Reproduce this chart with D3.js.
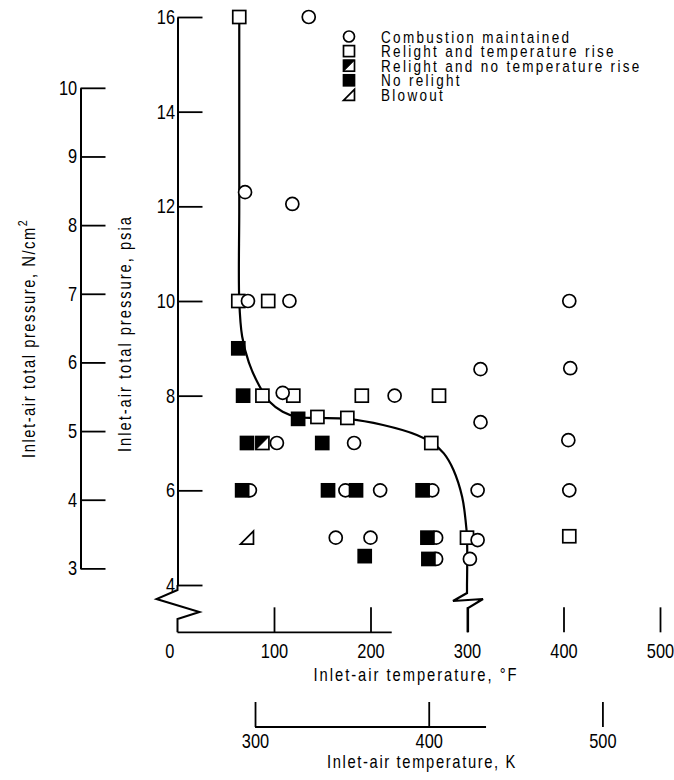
<!DOCTYPE html>
<html>
<head>
<meta charset="utf-8">
<script src="https://cdn.jsdelivr.net/npm/d3@7"></script>
<style>
  html, body { margin: 0; padding: 0; background: #fff; }
  svg { display: block; }
</style>
</head>
<body>
<div id="chart"></div>
<script>
// ---------------- data (inlet-air temperature °F, total pressure psia) ----------------
const combustionMaintained = [
  [136, 16.0], [70, 12.3], [119, 12.05], [73, 10.0], [116, 10.0], [406, 10.0],
  [314, 8.56], [407, 8.58], [109, 8.06], [225, 8.0], [314, 7.44],
  [103, 7.0], [183, 7.0], [405, 7.06],
  [75, 6.0], [174, 6.0], [210, 6.0], [264, 6.0], [311, 6.0], [406, 6.0],
  [164, 5.0], [200, 5.0], [268, 5.0], [311, 4.95],
  [268, 4.55], [303, 4.55]
];
const relightTempRise = [
  [64, 16.0], [63, 10.0], [94, 10.0], [88, 8.0], [120, 8.0], [191, 8.0], [271, 8.0],
  [145, 7.55], [176, 7.53], [263, 7.0], [300, 5.0], [406, 5.03]
];
const relightNoRise = [[88, 7.0]];
const noRelight = [
  [63, 9.0], [68, 8.0], [125, 7.51], [72, 7.0], [150, 7.0],
  [67, 6.0], [156, 6.0], [185, 6.0], [254, 6.0],
  [259, 5.0], [194, 4.61], [260, 4.55]
];
const blowout = [[72, 5.0]];
// faired boundary curve
const boundary = [
  [64, 16.0], [64, 12.0], [64, 10.0], [67, 9.25], [74, 8.7], [85, 8.2], [96, 7.86],
  [109, 7.66], [124, 7.55], [145, 7.53], [176, 7.51], [213, 7.38], [248, 7.17],
  [264, 7.0], [276, 6.78], [286, 6.43], [295, 5.86], [298.5, 5.37], [300, 5.0], [300, 4.0]
];
const psiaTicks = [4, 6, 8, 10, 12, 14, 16];
const ncm2Ticks = [3, 4, 5, 6, 7, 8, 9, 10];
const fTicks = [0, 100, 200, 300, 400, 500];
const kTicks = [300, 400, 500];
const legendItems = [
  {key: "circle", label: "Combustion maintained"},
  {key: "square", label: "Relight and temperature rise"},
  {key: "half", label: "Relight and no temperature rise"},
  {key: "black", label: "No relight"},
  {key: "tri", label: "Blowout"}
];

// ---------------- layout ----------------
const W = 674, H = 780;
const FONT = '"Liberation Sans", Arial, sans-serif';
const NARROW = 0.82;          // horizontal compression to mimic the condensed lettering
const PSI_PER_NCM2 = 1 / 0.6894757;

const xF = d3.scaleLinear().domain([0, 500]).range([177.5, 660]);
const yP = d3.scaleLinear().domain([4, 16]).range([585, 17]);
const yN = d3.scaleLinear().domain([3, 10]).range([yP(3 * PSI_PER_NCM2), yP(10 * PSI_PER_NCM2)]);
const f2x = k => xF((k - 273.15) * 1.8 + 32);
const xK = d3.scaleLinear().domain([300, 500]).range([f2x(300), f2x(500)]);

const svg = d3.select("#chart").append("svg")
  .attr("width", W).attr("height", H)
  .style("font-family", FONT);
svg.append("rect").attr("width", W).attr("height", H).attr("fill", "#fff");

function styleAxis(g, fs) {
  g.attr("font-family", null).attr("font-size", null);
  g.selectAll(".domain").attr("stroke", "#000").attr("stroke-width", 2);
  g.selectAll(".tick line").attr("stroke", "#000").attr("stroke-width", 1.8);
  g.selectAll(".tick text").attr("fill", "#000").style("font-size", fs + "px")
    .style("font-family", FONT).attr("transform", `scale(${NARROW},1)`);
}

// psia axis
const x0 = xF(0);
const gP = svg.append("g").attr("transform", `translate(${x0},0)`)
  .call(d3.axisLeft(yP).tickValues(psiaTicks).tickFormat(d3.format("d"))
    .tickSizeInner(-25).tickSizeOuter(0).tickPadding(3));
styleAxis(gP, 20);

// N/cm2 axis
const xNaxis = 80.5;
const gN = svg.append("g").attr("transform", `translate(${xNaxis},0)`)
  .call(d3.axisLeft(yN).tickValues(ncm2Ticks).tickFormat(d3.format("d"))
    .tickSizeInner(-25).tickSizeOuter(0).tickPadding(4));
styleAxis(gN, 20);

// break symbol on psia axis
const yb = yP(4), yBase = yP(3);
svg.append("path")
  .attr("d", `M${x0},${yb} L${x0},${yb + 5} L${x0 - 21},${yb + 14} L${x0 + 22},${yb + 27} L${x0},${yb + 34} L${x0},${yBase}`)
  .attr("fill", "none").attr("stroke", "#000").attr("stroke-width", 2);

// °F axis
const gF = svg.append("g").attr("transform", `translate(0,${yBase})`)
  .call(d3.axisBottom(xF).tickValues(fTicks).tickFormat(d3.format("d"))
    .tickSizeInner(-25).tickSizeOuter(0).tickPadding(11));
styleAxis(gF, 20);
gF.select(".domain").remove();
gF.selectAll(".tick").filter(d => d === 0).select("line").remove();
gF.selectAll(".tick").filter(d => d === 0).select("text").attr("dx", -10);
svg.append("line").attr("x1", xF(0)).attr("x2", xF(222)).attr("y1", yBase).attr("y2", yBase)
  .attr("stroke", "#000").attr("stroke-width", 1.8);

// K axis
const yK = 727;
const gK = svg.append("g").attr("transform", `translate(0,${yK})`)
  .call(d3.axisBottom(xK).tickValues(kTicks).tickFormat(d3.format("d"))
    .tickSizeInner(-25).tickSizeOuter(0).tickPadding(7));
styleAxis(gK, 20);
gK.select(".domain").remove();
svg.append("line").attr("x1", xK(300)).attr("x2", xK(433)).attr("y1", yK).attr("y2", yK)
  .attr("stroke", "#000").attr("stroke-width", 1.8);

// axis titles
const tN = svg.append("text")
  .attr("transform", `translate(35,458) rotate(-90) scale(${NARROW},1)`)
  .attr("text-anchor", "start").style("font-size", "18px").style("letter-spacing", "1.9px")
  .text("Inlet-air total pressure,  N/cm");
tN.append("tspan").attr("dy", -8).style("font-size", "13px").text("2");
svg.append("text")
  .attr("transform", `translate(131,452) rotate(-90) scale(${NARROW},1)`)
  .attr("text-anchor", "start").style("font-size", "18px").style("letter-spacing", "2.4px")
  .text("Inlet-air total pressure,  psia");
svg.append("text").attr("transform", `translate(416,681) scale(${NARROW},1)`).attr("text-anchor", "middle")
  .style("font-size", "18px").style("letter-spacing", "2.4px")
  .text("Inlet-air temperature,  °F");
svg.append("text").attr("transform", `translate(422,768) scale(${NARROW},1)`).attr("text-anchor", "middle")
  .style("font-size", "18px").style("letter-spacing", "2px")
  .text("Inlet-air temperature,  K");

// boundary curve
const line = d3.line().x(d => xF(d[0])).y(d => yP(d[1])).curve(d3.curveCatmullRom.alpha(0.5));
svg.append("path").datum(boundary).attr("d", line)
  .attr("fill", "none").attr("stroke", "#000").attr("stroke-width", 2.2);
// break on the curve at 300 °F
const xc = xF(300);
svg.append("path")
  .attr("d", `M${xc},${yb} L${xc},${yb + 8} L${xc - 14},${yb + 16} L${xc + 16},${yb + 14} L${xc + 1},${yb + 23} L${xc + 1},${yBase}`)
  .attr("fill", "none").attr("stroke", "#000").attr("stroke-width", 2.2);

// ---------------- markers ----------------
function drawMarker(g, type, cx, cy, s) {
  const h = s / 2;
  if (type === "circle") {
    g.append("circle").attr("cx", cx).attr("cy", cy).attr("r", h)
      .attr("fill", "#fff").attr("stroke", "#000").attr("stroke-width", 1.7);
  } else if (type === "square") {
    g.append("rect").attr("x", cx - h).attr("y", cy - h).attr("width", s).attr("height", s)
      .attr("fill", "#fff").attr("stroke", "#000").attr("stroke-width", 1.7);
  } else if (type === "black") {
    g.append("rect").attr("x", cx - h).attr("y", cy - h).attr("width", s).attr("height", s)
      .attr("fill", "#000").attr("stroke", "#000").attr("stroke-width", 1.7);
  } else if (type === "half") {
    g.append("rect").attr("x", cx - h).attr("y", cy - h).attr("width", s).attr("height", s)
      .attr("fill", "#fff").attr("stroke", "#000").attr("stroke-width", 1.7);
    g.append("path").attr("d", `M${cx - h},${cy - h} L${cx + h},${cy - h} L${cx - h},${cy + h} Z`)
      .attr("fill", "#000").attr("stroke", "#000").attr("stroke-width", 1);
  } else if (type === "tri") {
    g.append("path").attr("d", `M${cx - h},${cy + h} L${cx + h},${cy + h} L${cx + h},${cy - h} Z`)
      .attr("fill", "none").attr("stroke", "#000").attr("stroke-width", 1.7).attr("stroke-linejoin", "miter");
  }
}
const gM = svg.append("g");
const S = 13;
[["square", relightTempRise], ["circle", combustionMaintained], ["half", relightNoRise],
 ["black", noRelight], ["tri", blowout]].forEach(([type, arr]) => {
  arr.forEach(d => drawMarker(gM, type, xF(d[0]), yP(d[1]), S));
});

// ---------------- legend ----------------
const gL = svg.append("g");
const lgX = 349, lgTextX = 381, lgY0 = 36.5, lgDy = 14.6;
legendItems.forEach((it, i) => {
  const y = lgY0 + i * lgDy;
  drawMarker(gL, it.key, lgX, y, 11);
  gL.append("text").attr("transform", `translate(${lgTextX},${y + 6}) scale(${NARROW},1)`)
    .style("font-size", "16.5px").style("letter-spacing", "2.8px").text(it.label);
});
</script>
</body>
</html>
